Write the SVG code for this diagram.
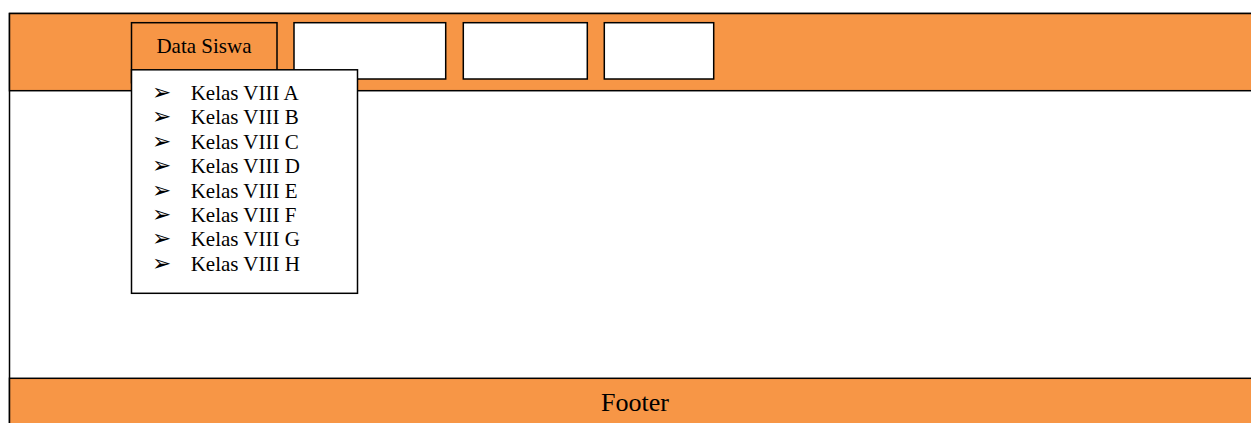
<svg xmlns="http://www.w3.org/2000/svg" width="1251" height="423" viewBox="0 0 1251 423">
<style>
.band{fill:#F79646;stroke:#000;stroke-width:1.5}
.box{fill:#fff;stroke:#000;stroke-width:1.5}
.obox{fill:#F79646;stroke:#000;stroke-width:1.5}
.t{font-family:"Liberation Serif","Times New Roman",serif;fill:#000}
.b{font-family:"DejaVu Sans",sans-serif;fill:#000}
</style>
<g id="frame">
<rect x="9.5" y="13.5" width="1260" height="420" fill="#fff" stroke="#000" stroke-width="1.5"/>
</g>
<g id="header">
<rect class="band" x="9.5" y="13.5" width="1260" height="77.2"/>
</g>
<g id="menu-data-siswa">
<rect class="obox" x="131.5" y="22.7" width="145.5" height="60"/>
<text class="t" x="204" y="53.3" font-size="21" text-anchor="middle">Data Siswa</text>
</g>
<g id="menu-2"><rect class="box" x="294" y="22.7" width="151.7" height="56.3"/></g>
<g id="menu-3"><rect class="box" x="463.3" y="22.7" width="124" height="56.3"/></g>
<g id="menu-4"><rect class="box" x="604.3" y="22.7" width="109.4" height="56.3"/></g>
<g id="dropdown">
<rect class="box" x="131.5" y="69.8" width="226" height="223.5"/>
<g class="b" font-size="23">
<text x="152" y="100">➢</text>
<text x="152" y="124.4">➢</text>
<text x="152" y="148.8">➢</text>
<text x="152" y="173.2">➢</text>
<text x="152" y="197.6">➢</text>
<text x="152" y="222">➢</text>
<text x="152" y="246.4">➢</text>
<text x="152" y="270.8">➢</text>
</g>
<g class="t" font-size="21">
<text x="190.7" y="100">Kelas VIII A</text>
<text x="190.7" y="124.4">Kelas VIII B</text>
<text x="190.7" y="148.8">Kelas VIII C</text>
<text x="190.7" y="173.2">Kelas VIII D</text>
<text x="190.7" y="197.6">Kelas VIII E</text>
<text x="190.7" y="222">Kelas VIII F</text>
<text x="190.7" y="246.4">Kelas VIII G</text>
<text x="190.7" y="270.8">Kelas VIII H</text>
</g>
</g>
<g id="footer">
<rect class="band" x="9.5" y="378.3" width="1260" height="60"/>
<text class="t" x="635" y="411" font-size="26" text-anchor="middle">Footer</text>
</g>
</svg>
